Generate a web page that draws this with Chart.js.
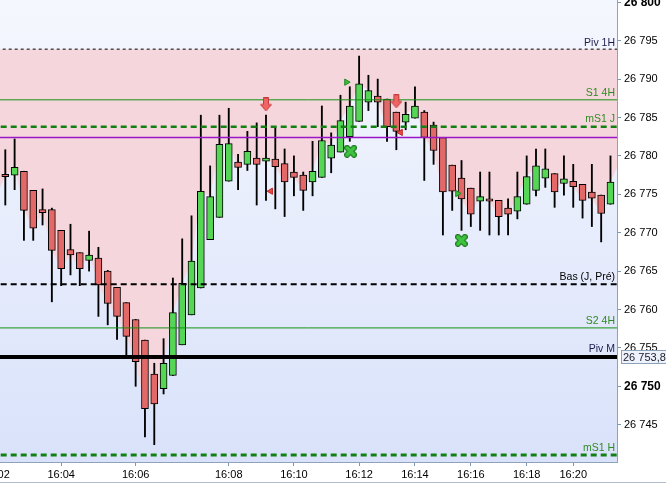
<!DOCTYPE html>
<html lang="fr">
<head>
<meta charset="utf-8">
<title>Bougies 1 min</title>
<script src="https://cdn.jsdelivr.net/npm/chart.js@4.4.1/dist/chart.umd.min.js"></script>
<style>
  html, body { margin: 0; padding: 0; background: #fff; }
  #grafico { display: block; }
</style>
</head>
<body>
<canvas id="grafico" width="666" height="485"></canvas>
<script>
// Velas (uma por índice, da esquerda para a direita)
const abertura = [
  26777.6, 26777.5, 26778.0, 26775.5, 26773.0, 26773.0, 26770.3, 26767.8, 26767.4, 26766.4,
  26766.7, 26765.0, 26762.9, 26760.9, 26758.7, 26756.0, 26751.6, 26749.7, 26751.4, 26755.4,
  26759.3, 26762.8, 26769.1, 26772.0, 26776.7, 26779.2, 26778.9, 26779.7, 26779.3, 26779.6,
  26779.0, 26777.9, 26777.5, 26776.6, 26777.2, 26779.7, 26780.5, 26782.5, 26784.5, 26787.0,
  26787.8, 26787.4, 26785.7, 26784.4, 26784.9, 26785.7, 26784.0, 26782.4, 26778.8, 26777.1,
  26775.8, 26774.1, 26774.4, 26774.2, 26773.2, 26772.8, 26773.7, 26775.5, 26777.1, 26777.7,
  26776.4, 26776.7, 26776.3, 26775.3, 26774.9, 26773.7
];
const maxima = [
  26780.8, 26782.2, 26778.0, 26775.5, 26775.7, 26773.2, 26770.3, 26771.1, 26767.4, 26770.2,
  26768.1, 26765.1, 26762.9, 26760.9, 26758.7, 26756.0, 26753.0, 26756.2, 26764.1, 26769.2,
  26772.2, 26785.3, 26778.7, 26785.3, 26786.2, 26780.2, 26783.2, 26784.3, 26785.3, 26783.7,
  26780.9, 26780.0, 26777.9, 26781.9, 26786.5, 26783.0, 26787.9, 26789.0, 26793.0, 26790.5,
  26790.0, 26787.4, 26785.7, 26787.0, 26789.0, 26785.9, 26784.4, 26782.4, 26778.8, 26779.4,
  26775.8, 26777.9, 26777.9, 26774.2, 26774.4, 26777.9, 26780.0, 26780.9, 26780.9, 26777.7,
  26780.0, 26778.9, 26776.3, 26778.9, 26774.9, 26780.0
];
const minima = [
  26773.6, 26775.6, 26769.0, 26769.0, 26771.0, 26761.0, 26763.1, 26764.5, 26763.1, 26765.0,
  26759.1, 26758.0, 26756.1, 26753.9, 26750.0, 26743.4, 26742.4, 26749.0, 26751.4, 26755.4,
  26759.3, 26762.8, 26769.1, 26772.0, 26776.7, 26775.6, 26778.1, 26773.6, 26774.2, 26773.1,
  26772.1, 26774.8, 26772.9, 26774.8, 26777.2, 26777.8, 26780.5, 26781.9, 26784.5, 26785.9,
  26783.8, 26781.9, 26780.8, 26783.4, 26784.9, 26776.8, 26778.9, 26769.7, 26772.9, 26770.3,
  26770.8, 26770.3, 26769.7, 26769.7, 26769.7, 26771.8, 26773.7, 26774.8, 26775.9, 26773.3,
  26774.9, 26773.3, 26771.9, 26770.8, 26768.8, 26773.7
];
const fechamento = [
  26777.3, 26778.5, 26772.9, 26770.6, 26772.6, 26767.7, 26765.3, 26767.1, 26765.3, 26767.1,
  26763.2, 26760.8, 26759.1, 26756.5, 26753.2, 26747.1, 26747.7, 26753.0, 26759.6, 26763.4,
  26766.3, 26775.4, 26774.7, 26781.5, 26781.6, 26778.5, 26780.6, 26778.9, 26779.7, 26778.6,
  26776.6, 26777.2, 26775.5, 26778.0, 26782.0, 26781.4, 26784.6, 26786.5, 26789.4, 26788.5,
  26787.0, 26783.8, 26783.2, 26785.4, 26786.5, 26782.4, 26780.7, 26775.3, 26775.4, 26774.4,
  26772.4, 26774.7, 26774.1, 26772.1, 26772.4, 26774.7, 26777.3, 26778.7, 26778.3, 26775.3,
  26777.0, 26776.0, 26774.2, 26774.5, 26772.5, 26776.6
];

// Borda da zona rosa (antes da primeira vela e depois da última)
const zonaAntes = 26774.9;
const zonaDepois = 26779.2;

// Níveis horizontais
const nomesNivel = ['Piv 1H', 'S1 4H', 'mS1 J', '', 'Bas (J, Pré)', 'S2 4H', 'Piv M', 'mS1 H'];
const valoresNivel = [26793.9, 26787.3, 26783.8, 26782.4, 26763.3, 26757.6, 26753.8, 26741.05];

// Marcadores (índice da vela, preço)
const setaX = [28.0, 42.0];
const setaY = [26786.7, 26787.1];
const trianguloEsqX = [28.5, 42.45];
const trianguloEsqY = [26775.4, 26783.05];
const trianguloDirX = [36.65, 48.57];
const trianguloDirY = [26789.6, 26775.1];
const treboX = [37.08, 48.98];
const treboY = [26780.6, 26769.0];

// Eixos
const marcasIndice = [-1, 6, 14, 24, 31, 38, 44, 50, 56, 61];
const marcasHora = ['16:02', '16:04', '16:06', '16:08', '16:10', '16:12', '16:14', '16:16', '16:18', '16:20'];
const marcasPreco = [26745, 26750, 26755, 26760, 26765, 26770, 26775, 26780, 26785, 26790, 26795, 26800];
const precoAtual = 26753.8;

const xMin = -0.57, xMax = 65.7;
const yMin = 26740.14, yMax = 26800.3;

// estilos dos níveis, na mesma ordem de valoresNivel
const estiloNivel = [
  { cor: '#000000', largura: 1, traco: [3, 3], corTexto: '#1c1c4c' },
  { cor: '#149014', largura: 1, traco: [], corTexto: '#2f8a22' },
  { cor: '#138013', largura: 2.5, traco: [6, 4], corTexto: '#2f8a22' },
  { cor: '#9a14c8', largura: 1.5, traco: [], corTexto: '#9a14c8' },
  { cor: '#000000', largura: 2, traco: [6, 4], corTexto: '#000000' },
  { cor: '#149014', largura: 1, traco: [], corTexto: '#2f8a22' },
  { cor: '#000000', largura: 4, traco: [], corTexto: '#1c1c4c' },
  { cor: '#138013', largura: 3, traco: [6, 4], corTexto: '#2f8a22' }
];

Chart.defaults.font.family = "'Liberation Sans', Arial, sans-serif";

function formatarPreco(v) {
  const inteiro = Math.floor(v);
  const milhar = Math.floor(inteiro / 1000);
  const resto = inteiro - milhar * 1000;
  return milhar + ' ' + String(resto).padStart(3, '0');
}

// desenhos dos marcadores
function criarSeta() {
  const c = document.createElement('canvas');
  c.width = 12; c.height = 14;
  const g = c.getContext('2d');
  g.beginPath();
  g.moveTo(3.5, 0.5); g.lineTo(8.5, 0.5); g.lineTo(8.5, 7); g.lineTo(11.5, 7);
  g.lineTo(6, 13.5); g.lineTo(0.5, 7); g.lineTo(3.5, 7); g.closePath();
  g.fillStyle = '#f06464'; g.fill();
  g.strokeStyle = '#c43a3a'; g.lineWidth = 1; g.stroke();
  return c;
}

function criarTrevo() {
  const c = document.createElement('canvas');
  c.width = 13; c.height = 13;
  const g = c.getContext('2d');
  g.lineCap = 'round';
  const cruz = () => {
    g.beginPath();
    g.moveTo(3, 3); g.lineTo(10, 10);
    g.moveTo(10, 3); g.lineTo(3, 10);
    g.stroke();
  };
  g.strokeStyle = '#1f7a1f'; g.lineWidth = 6; cruz();
  g.strokeStyle = '#3ec43e'; g.lineWidth = 3.5; cruz();
  return c;
}

const indices = abertura.map((_, i) => i);
const corVela = indices.map(i => fechamento[i] >= abertura[i] ? '#55d655' : '#e36868');

const pontosZona = [{ x: -1, y: zonaAntes }]
  .concat(indices.map(i => ({ x: i, y: fechamento[i] })))
  .concat([{ x: abertura.length, y: zonaDepois }]);

const datasetsNivel = valoresNivel.map((v, k) => ({
  type: 'line',
  data: [{ x: xMin - 1, y: v }, { x: xMax + 1, y: v }],
  borderColor: estiloNivel[k].cor,
  borderWidth: estiloNivel[k].largura,
  borderDash: estiloNivel[k].traco,
  pointRadius: 0,
  fill: false,
  order: 0
}));

// tira o espaço extra que o Chart.js reserva para os rótulos
function semPadding(s) {
  s.paddingLeft = 0; s.paddingRight = 0;
  s.paddingTop = 0; s.paddingBottom = 0;
}

// fundo degradê da área do gráfico
const fundo = {
  id: 'fundo',
  beforeDraw(chart) {
    const { ctx, chartArea: a } = chart;
    const g = ctx.createLinearGradient(0, a.top, 0, a.bottom);
    g.addColorStop(0, '#f5f7fe');
    g.addColorStop(1, '#d9e2fa');
    ctx.save();
    ctx.fillStyle = g;
    ctx.fillRect(a.left, a.top, a.right - a.left, a.bottom - a.top);
    ctx.restore();
  }
};

// nomes dos níveis, caixa do preço e linha de baixo
const textos = {
  id: 'textos',
  afterDatasetsDraw(chart) {
    const { ctx, chartArea: a } = chart;
    const ys = chart.scales.y;
    ctx.save();
    ctx.font = "10.5px 'Liberation Sans', Arial, sans-serif";
    ctx.textAlign = 'right';
    ctx.textBaseline = 'alphabetic';
    valoresNivel.forEach((v, k) => {
      if (!nomesNivel[k]) return;
      const y = ys.getPixelForValue(v);
      ctx.fillStyle = estiloNivel[k].corTexto;
      ctx.fillText(nomesNivel[k], a.right - 2, y - 3 - estiloNivel[k].largura / 2);
    });
    ctx.restore();
  },
  afterDraw(chart) {
    const { ctx, chartArea: a } = chart;
    const ys = chart.scales.y;
    const y = Math.round(ys.getPixelForValue(precoAtual));
    const decimal = Math.round((precoAtual - Math.floor(precoAtual)) * 10);
    ctx.save();
    ctx.fillStyle = '#eef3fb';
    ctx.strokeStyle = '#8ba1b8';
    ctx.lineWidth = 1;
    ctx.fillRect(a.right + 4.5, y - 6.5, 60, 13);
    ctx.strokeRect(a.right + 4.5, y - 6.5, 60, 13);
    ctx.fillStyle = '#1a1a2a';
    ctx.font = "11px 'Liberation Sans', Arial, sans-serif";
    ctx.textBaseline = 'middle';
    ctx.textAlign = 'left';
    ctx.fillText(formatarPreco(precoAtual) + ',' + decimal, a.right + 6, y + 0.5);
    ctx.strokeStyle = '#b0bccb';
    ctx.beginPath();
    ctx.moveTo(0, chart.height - 2.5);
    ctx.lineTo(chart.width, chart.height - 2.5);
    ctx.stroke();
    ctx.restore();
  }
};

const ctx = document.getElementById('grafico').getContext('2d');
new Chart(ctx, {
  type: 'bar',
  data: {
    datasets: [
      // marcadores
      {
        type: 'line', showLine: false, order: -1,
        data: setaX.map((x, i) => ({ x: x, y: setaY[i] })),
        pointStyle: criarSeta(), pointRadius: 6
      },
      {
        type: 'line', showLine: false, order: -1,
        data: trianguloEsqX.map((x, i) => ({ x: x, y: trianguloEsqY[i] })),
        pointStyle: 'triangle', rotation: -90, pointRadius: 3.6,
        backgroundColor: '#e84848', borderColor: '#c02a2a', borderWidth: 1
      },
      {
        type: 'line', showLine: false, order: -1,
        data: trianguloDirX.map((x, i) => ({ x: x, y: trianguloDirY[i] })),
        pointStyle: 'triangle', rotation: 90, pointRadius: 3.6,
        backgroundColor: '#3cc03c', borderColor: '#1f8a1f', borderWidth: 1
      },
      {
        type: 'line', showLine: false, order: -1,
        data: treboX.map((x, i) => ({ x: x, y: treboY[i] })),
        pointStyle: criarTrevo(), pointRadius: 6
      },
      ...datasetsNivel,
      // corpos das velas
      {
        data: indices.map(i => ({ x: i, y: [abertura[i], fechamento[i]] })),
        backgroundColor: corVela,
        borderColor: '#000',
        borderWidth: 1,
        borderSkipped: false,
        barThickness: 7,
        grouped: false,
        order: 1
      },
      // pavios
      {
        data: indices.map(i => ({ x: i, y: [minima[i], maxima[i]] })),
        backgroundColor: '#000',
        borderWidth: 0,
        barThickness: 1.2,
        grouped: false,
        order: 2
      },
      // zona rosa
      {
        type: 'line',
        data: pontosZona,
        borderWidth: 0,
        borderColor: 'rgba(0,0,0,0)',
        pointRadius: 0,
        tension: 0,
        fill: { value: valoresNivel[0] },
        backgroundColor: '#f6d6dd',
        order: 3
      }
    ]
  },
  options: {
    responsive: false,
    devicePixelRatio: 1,
    animation: false,
    events: [],
    layout: { padding: 0, autoPadding: false },
    plugins: {
      legend: { display: false },
      tooltip: { enabled: false }
    },
    scales: {
      x: {
        type: 'linear',
        position: 'bottom',
        offset: false,
        min: xMin,
        max: xMax,
        afterBuildTicks: s => { s.ticks = marcasIndice.map(v => ({ value: v })); },
        afterFit: s => { s.height = 23; semPadding(s); },
        ticks: {
          autoSkip: false,
          maxRotation: 0,
          padding: 2,
          color: '#000',
          font: { size: 11 },
          callback: (v, i) => marcasHora[i]
        },
        grid: { offset: false, drawOnChartArea: false, drawTicks: true, tickLength: 4, color: '#7f97ad' },
        border: { display: true, color: '#8ea3b8' }
      },
      y: {
        type: 'linear',
        position: 'right',
        min: yMin,
        max: yMax,
        afterBuildTicks: s => { s.ticks = marcasPreco.map(v => ({ value: v })); },
        afterFit: s => { s.width = 49; semPadding(s); },
        ticks: {
          padding: 3,
          color: '#000',
          font: c => (c.tick && c.tick.value % 50 === 0) ? { size: 12, weight: 'bold' } : { size: 11 },
          callback: v => formatarPreco(v)
        },
        grid: { drawOnChartArea: false, drawTicks: true, tickLength: 4, color: '#7f97ad' },
        border: { display: true, color: '#8ea3b8' }
      }
    }
  },
  plugins: [fundo, textos]
});
</script>
</body>
</html>
